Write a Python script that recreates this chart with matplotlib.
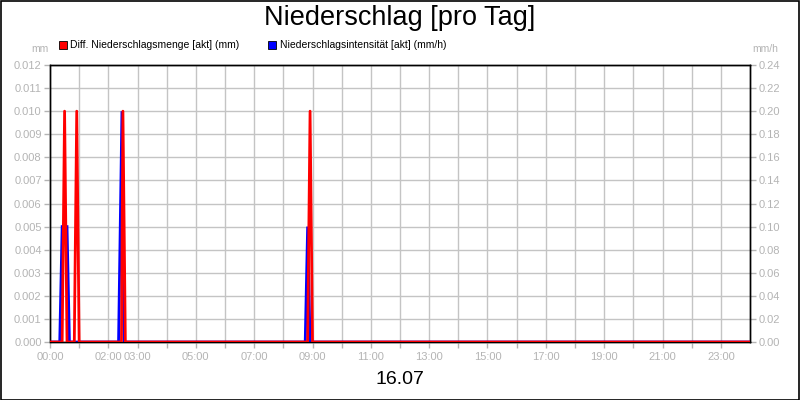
import matplotlib

matplotlib.use("Agg")
import matplotlib.pyplot as plt
from matplotlib.patches import Rectangle

plt.rcParams["font.family"] = ["Liberation Sans", "DejaVu Sans"]

# readings (time, value); zero between the listed points
red_times = ["00:00", "00:25", "00:30", "00:35", "00:50", "00:55", "01:00",
             "02:27", "02:30", "02:35", "08:50", "08:55", "09:00", "24:00"]
red_values = [0, 0, 0.010, 0, 0, 0.010, 0,
              0, 0.010, 0, 0, 0.010, 0, 0]  # mm
blue_times = ["00:00", "00:20", "00:25", "00:35", "00:40",
              "02:21", "02:28", "02:33", "08:45", "08:50", "08:55", "24:00"]
blue_values = [0, 0, 0.1, 0.1, 0,
               0, 0.2, 0, 0, 0.1, 0, 0]  # mm/h

hour_labels = ["00:00", "02:00", "03:00", "05:00", "07:00", "09:00", "11:00",
               "13:00", "15:00", "17:00", "19:00", "21:00", "23:00"]
left_ticks = [i / 1000 for i in range(13)]
right_ticks = [i / 50 for i in range(13)]

GRAY = "#b4b4b4"
GRID = "#c4c4c4"


def to_hours(stamp):
    h, m = stamp.split(":")
    return int(h) + int(m) / 60


fig = plt.figure(figsize=(8, 4), dpi=100)
ax = fig.add_axes([50 / 800, 1 - 342 / 400, 700 / 800, 277 / 400])
ax2 = ax.twinx()

# grid lives on the bottom (right-axis) layer so both series sit above it
ax2.set_yticks(right_ticks)
ax2.grid(True, axis="y", color=GRID, linewidth=1.0)
for h in range(1, 24):
    ax2.axvline(h, color=GRID, linewidth=1.0, zorder=0)

ax2.plot([to_hours(t) for t in blue_times], blue_values, color="#0000ff",
         linewidth=2.0, zorder=3, solid_joinstyle="miter")
ax.plot([to_hours(t) for t in red_times], red_values, color="#ff0000", linewidth=2.0, zorder=3)

ax.set_zorder(ax2.get_zorder() + 1)
ax.patch.set_visible(False)

ax.set_xlim(0, 24)
ax.set_ylim(0, 0.012)
ax2.set_ylim(0, 0.24)

ax.set_xticks(range(24))
ax.set_xticklabels([f"{h:02d}:00" if f"{h:02d}:00" in hour_labels else "" for h in range(24)])
ax.set_yticks(left_ticks)
ax.set_yticklabels([f"{v:.3f}" for v in left_ticks])
ax2.set_yticklabels([f"{v:.2f}" for v in right_ticks])

for a in (ax, ax2):
    a.tick_params(colors=GRAY, labelsize=8, length=4, width=1, direction="out")
    for spine in a.spines.values():
        spine.set_color("black")
        spine.set_linewidth(1.0)
ax.tick_params(axis="y", pad=2)
ax2.tick_params(axis="y", pad=2)

fig.text(0.5, 1 - 18 / 400, "Niederschlag [pro Tag]", ha="center", va="center", fontsize=19.5)
fig.text(400 / 800, 1 - 380 / 400, "16.07", ha="center", va="center", fontsize=14)
fig.text(40 / 800, 1 - 49 / 400, "mm", ha="center", va="center", fontsize=7.5, color=GRAY)
fig.text(765 / 800, 1 - 49 / 400, "mm/h", ha="center", va="center", fontsize=7.5, color=GRAY)

fig.patches.append(Rectangle((59 / 800, 1 - 49 / 400), 8 / 800, 8 / 400, transform=fig.transFigure,
                             facecolor="#ff0000", edgecolor="black", linewidth=0.6))
fig.text(70 / 800, 1 - 45 / 400, "Diff. Niederschlagsmenge [akt] (mm)", ha="left", va="center", fontsize=7.5)
fig.patches.append(Rectangle((268 / 800, 1 - 49 / 400), 8 / 800, 8 / 400, transform=fig.transFigure,
                             facecolor="#0000ff", edgecolor="black", linewidth=0.6))
fig.text(280 / 800, 1 - 45 / 400, "Niederschlagsintensität [akt] (mm/h)", ha="left", va="center", fontsize=7.5)

fig.patches.append(Rectangle((0.5 / 800, 0.5 / 400), 798.5 / 800, 398.5 / 400, transform=fig.transFigure,
                             facecolor="none", edgecolor="black", linewidth=1.2))

fig.savefig("out.png", dpi=100)
